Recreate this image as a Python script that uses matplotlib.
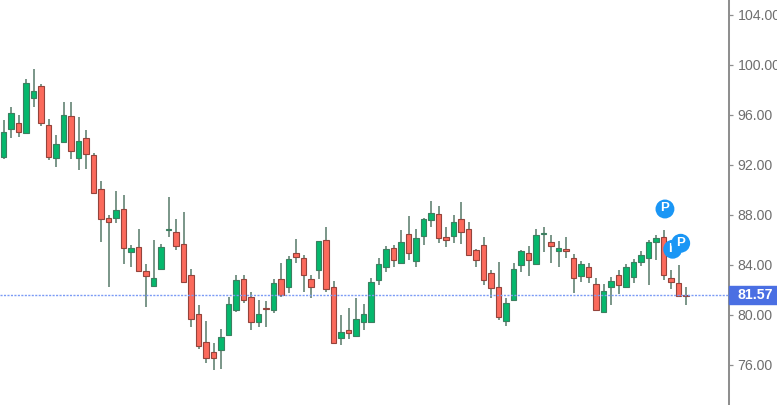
import numpy as np
import matplotlib
matplotlib.use("Agg")
import matplotlib.pyplot as plt
from matplotlib.patches import Rectangle

plt.rcParams['font.family'] = ['Liberation Sans', 'DejaVu Sans']

opens = [92.75, 94.93, 95.47, 94.61, 97.44, 98.40, 95.28, 92.61, 93.89, 95.97, 92.61, 94.27,
         92.85, 90.16, 87.84, 87.81, 88.53, 85.12, 85.55, 83.63, 82.40, 83.79, 86.85, 86.75,
         85.73, 83.25, 80.13, 77.95, 77.12, 77.31, 78.51, 80.51, 82.93, 81.55, 79.49, 80.64,
         80.51, 82.93, 82.32, 85.04, 84.64, 82.93, 83.71, 86.05, 82.35, 78.21, 78.85, 78.40,
         79.49, 79.49, 82.91, 83.92, 85.44, 84.21, 86.53, 84.40, 86.43, 87.71, 88.16, 86.35,
         86.43, 87.73, 86.93, 85.25, 85.65, 83.44, 82.32, 79.60, 81.31, 84.11, 85.04, 84.19,
         86.53, 85.95, 85.20, 85.33, 84.64, 83.20, 83.95, 82.53, 80.32, 82.32, 83.25, 82.32,
         83.09, 84.29, 84.61, 85.92, 86.35, 83.04, 82.64, 81.65]
closes = [94.75, 96.27, 94.72, 98.67, 98.03, 95.41, 92.72, 93.76, 96.08, 93.23, 93.97, 92.93,
          89.81, 87.73, 87.52, 88.45, 85.41, 85.41, 83.63, 83.20, 83.04, 85.55, 86.93, 85.63,
          82.69, 79.73, 77.63, 76.61, 76.61, 78.35, 80.93, 82.85, 81.31, 79.49, 80.13, 80.53,
          82.64, 81.68, 84.53, 84.69, 83.31, 82.29, 85.97, 82.13, 77.81, 78.72, 78.61, 79.73,
          80.13, 82.75, 84.13, 85.33, 84.51, 85.95, 85.01, 86.27, 87.76, 88.24, 86.21, 86.11,
          87.55, 86.72, 84.91, 84.51, 82.91, 82.21, 79.89, 81.04, 83.76, 85.17, 84.51, 86.45,
          86.64, 85.60, 85.44, 85.23, 83.01, 84.16, 83.12, 80.51, 82.03, 82.83, 82.51, 83.95,
          84.35, 84.85, 85.95, 86.24, 83.31, 82.72, 81.60, 81.60]
highs = [95.68, 96.69, 96.08, 98.96, 99.73, 98.56, 95.76, 94.51, 97.09, 97.09, 95.89, 94.91,
         93.07, 90.77, 88.08, 90.00, 89.68, 85.65, 86.96, 84.13, 86.08, 85.76, 89.49, 87.79,
         88.29, 83.73, 80.85, 79.57, 77.87, 78.93, 81.49, 83.28, 83.28, 81.95, 81.28, 81.23,
         82.93, 84.27, 84.80, 86.16, 84.85, 83.28, 86.03, 87.09, 82.77, 80.08, 80.67, 81.47,
         80.96, 83.01, 84.67, 85.60, 85.68, 86.88, 88.00, 86.96, 87.87, 89.20, 88.80, 87.09,
         88.08, 89.09, 87.55, 85.33, 86.29, 83.68, 84.29, 81.41, 84.27, 85.28, 85.60, 86.99,
         87.15, 86.48, 86.00, 86.29, 84.93, 84.43, 84.27, 83.04, 82.53, 83.15, 83.68, 84.16,
         84.56, 85.17, 86.08, 86.48, 86.88, 83.68, 84.08, 82.35]
lows = [92.53, 94.21, 94.29, 94.53, 96.69, 95.20, 92.51, 91.89, 93.81, 92.59, 91.68, 91.79,
        89.76, 85.89, 82.35, 87.47, 84.16, 83.95, 83.57, 80.69, 82.35, 83.68, 86.35, 85.28,
        82.61, 79.15, 77.39, 76.27, 75.68, 75.79, 78.45, 80.35, 81.01, 78.88, 79.09, 79.09,
        80.21, 81.49, 81.87, 84.27, 81.95, 81.41, 82.99, 81.89, 77.76, 77.68, 78.19, 78.35,
        78.88, 79.41, 82.48, 83.55, 83.95, 84.16, 84.48, 83.89, 85.68, 87.09, 85.87, 85.49,
        85.87, 85.76, 84.80, 83.89, 82.48, 81.41, 79.68, 79.20, 81.28, 83.55, 83.20, 84.08,
        85.15, 84.27, 83.95, 84.67, 81.87, 82.75, 82.67, 80.37, 80.27, 80.88, 81.76, 82.27,
        82.67, 84.00, 82.48, 84.48, 82.88, 82.19, 81.49, 80.88]

price_ticks = [76, 80, 84, 88, 92, 96, 100, 104]
last_price = 81.57

# event bubbles, bar position / price / letter
event_bars = [89.2, 88.17, 90.27]
event_prices = [85.26, 88.48, 85.74]
event_labels = ['I', 'P', 'P']

# prices above were read with the scale one pixel off
READ_OFFSET = 0.08

UP = '#05b86d'
UP_EDGE = '#3c7f60'
DOWN = '#fb6a5c'
DOWN_EDGE = '#94443c'
WICK = '#7a9688'

fig = plt.figure(figsize=(7.77, 4.05), dpi=100)
ax = fig.add_axes([0, 0, 729 / 777, 1])

opens = np.array(opens) - READ_OFFSET
closes = np.array(closes) - READ_OFFSET
highs = np.array(highs) - READ_OFFSET
lows = np.array(lows) - READ_OFFSET
idx = np.arange(len(opens))
is_up = closes > opens
bottoms = np.minimum(opens, closes)
heights = np.abs(closes - opens)

ax.vlines(idx, lows, highs, color=WICK, lw=1.4, zorder=2)
ax.bar(idx, heights, 0.74, bottom=bottoms,
       color=[UP if u else DOWN for u in is_up],
       edgecolor=[UP_EDGE if u else DOWN_EDGE for u in is_up],
       lw=0.8, zorder=3)

ax.axhline(last_price, color='#7b9bf5', lw=1.0, ls=(0, (1.5, 1)), zorder=4)

# later bubbles lie over the earlier ones, letters included
for i, (x, y, t) in enumerate(zip(event_bars, event_prices, event_labels)):
    ax.scatter([x], [y], s=185, color='#1a96f5', edgecolors='none', zorder=5 + 2 * i)
    ax.text(x - (0.35 if t == 'I' else 0), y + 0.05, t, color='white', fontsize=9.5,
            fontweight='bold', ha='center', va='center', zorder=6 + 2 * i)

ax.set_xlim(-0.493, 96.71)
# 104 sits at pixel 15, 76 at pixel 365
ax.set_ylim(72.8, 105.2)
ax.set_xticks([])

for s in ['top', 'left', 'bottom']:
    ax.spines[s].set_visible(False)
ax.spines['right'].set_color('#8f8f8f')
ax.spines['right'].set_linewidth(1.45)

ax.yaxis.tick_right()
ax.set_yticks(price_ticks)
ax.set_yticklabels(['%.2f' % p for p in price_ticks])
ax.tick_params(axis='y', length=3, width=0.9, color='#8f8f8f', labelcolor='#6e6e6e',
               labelsize=10.2, pad=3.2)

# last price tag on the axis
trans = ax.get_yaxis_transform()
ax.add_patch(Rectangle((1, last_price - 0.72), 48 / 729, 1.44, transform=trans,
                       color='#4a6fe3', clip_on=False, zorder=12))
ax.text(1 + 8 / 729, last_price, '%.2f' % last_price, transform=trans, color='white',
        fontsize=10.2, fontweight='bold', ha='left', va='center', clip_on=False, zorder=13)

fig.savefig('out.png', dpi=100)
